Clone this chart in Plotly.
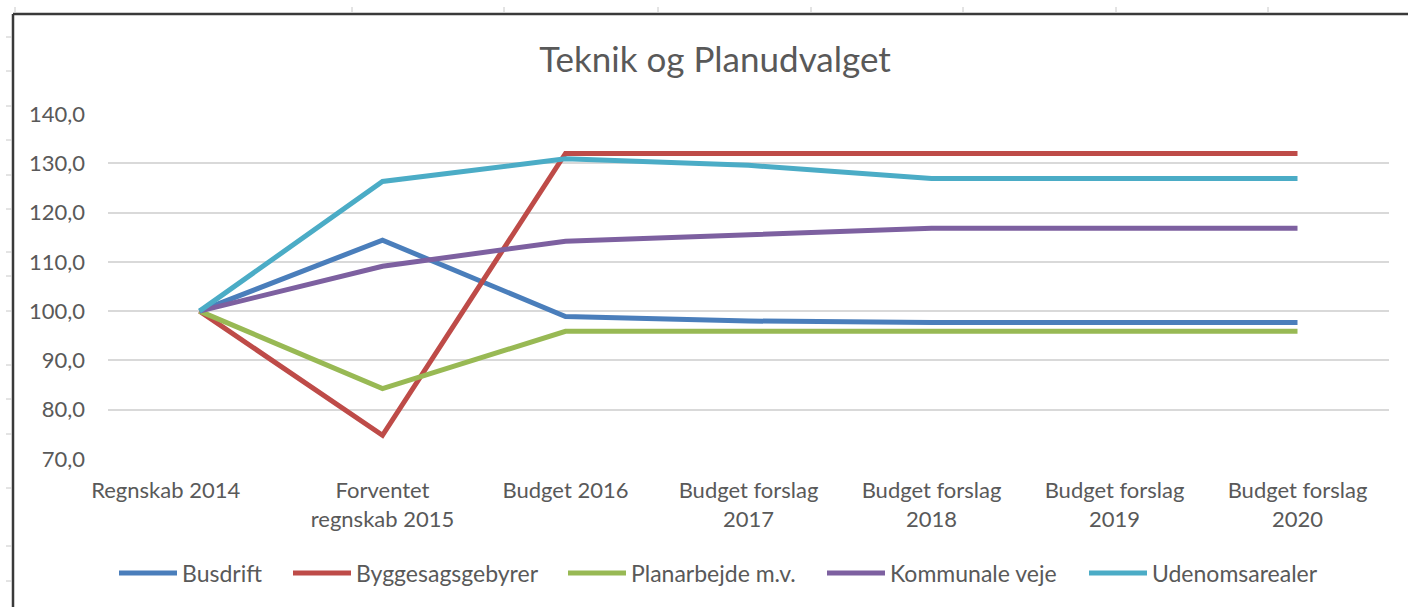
import plotly.graph_objects as go

# categories and series (index, Regnskab 2014 = 100)
categories = [
    "Regnskab 2014",
    "Forventet regnskab 2015",
    "Budget 2016",
    "Budget forslag 2017",
    "Budget forslag 2018",
    "Budget forslag 2019",
    "Budget forslag 2020",
]
# tick labels as Excel wrapped them (first one sits left of its point)
tick_labels = [
    "Regnskab 2014" + "\u00a0" * 12,
    "Forventet<br>regnskab 2015",
    "Budget 2016",
    "Budget forslag<br>2017",
    "Budget forslag<br>2018",
    "Budget forslag<br>2019",
    "Budget forslag<br>2020",
]
busdrift = [100.0, 114.4, 98.9, 98.0, 97.7, 97.7, 97.7]
byggesagsgebyrer = [100.0, 74.8, 132.0, 132.0, 132.0, 132.0, 132.0]
planarbejde = [100.0, 84.3, 95.9, 95.9, 95.9, 95.9, 95.9]
kommunale_veje = [100.0, 109.1, 114.2, 115.6, 116.8, 116.8, 116.8]
udenomsarealer = [100.0, 126.3, 130.9, 129.6, 126.9, 126.9, 126.9]

series_names = ["Busdrift", "Byggesagsgebyrer", "Planarbejde m.v.", "Kommunale veje", "Udenomsarealer"]
series_values = [busdrift, byggesagsgebyrer, planarbejde, kommunale_veje, udenomsarealer]
colors = ["#4a7ebb", "#be4b48", "#98b954", "#7d60a0", "#4bacc6"]

y_ticks = [70, 80, 90, 100, 110, 120, 130, 140]

W, H = 1408, 607
L, R, T, B = 108, 19, 114, 148
FONT = "Lato"
GREY = "#595959"


def px(x):
    return (x - L) / (W - L - R)


def py(y):
    return (H - B - y) / (H - T - B)


# left edge of each legend entry (pixels), one legend per series
legend_left = [114, 288, 563, 822, 1084]

fig = go.Figure()
legends = {}
for i, (name, vals, col) in enumerate(zip(series_names, series_values, colors)):
    key = "legend" if i == 0 else "legend%d" % (i + 1)
    fig.add_trace(go.Scatter(
        x=categories, y=vals, name=name, mode="lines",
        line=dict(color=col, width=5), legend=key,
    ))
    legends[key] = dict(orientation="h", x=px(legend_left[i]), xanchor="left",
                        y=py(573), yanchor="middle", bgcolor="rgba(0,0,0,0)",
                        font=dict(family=FONT, size=23, color=GREY),
                        itemwidth=58)

shapes = []
# worksheet frame behind the chart
shapes.append(dict(type="line", xref="paper", yref="paper",
                   x0=px(13), x1=px(W + 5), y0=py(14), y1=py(14),
                   line=dict(color="#3a3a3a", width=2.5)))
shapes.append(dict(type="line", xref="paper", yref="paper",
                   x0=px(13), x1=px(13), y0=py(14), y1=py(H + 5),
                   line=dict(color="#3a3a3a", width=2.5)))
for ry in [37, 71, 106, 140, 175, 209, 252, 276, 311, 365, 399, 434, 488, 546, 581]:
    shapes.append(dict(type="line", xref="paper", yref="paper",
                       x0=px(6), x1=px(12), y0=py(ry), y1=py(ry),
                       line=dict(color="#c8c8c8", width=1)))
for cx in [15, 352, 504, 658, 811, 963, 1116, 1268]:
    shapes.append(dict(type="line", xref="paper", yref="paper",
                       x0=px(cx), x1=px(cx), y0=py(7), y1=py(12),
                       line=dict(color="#c8c8c8", width=1)))

fig.update_layout(
    width=W, height=H,
    margin=dict(l=L, r=R, t=T, b=B, autoexpand=False),
    paper_bgcolor="white", plot_bgcolor="white",
    separators=",.",
    font=dict(family=FONT, color=GREY, size=22),
    title=dict(text="Teknik og Planudvalget", x=715 / W, y=1 - 60 / H,
               xref="container", yref="container",
               xanchor="center", yanchor="middle",
               font=dict(family=FONT, size=35, color=GREY)),
    xaxis=dict(range=[-0.5, 6.5], showgrid=False, showline=False,
               zeroline=False, ticks="", ticklabelstandoff=16,
               tickvals=categories, ticktext=tick_labels, tickangle=0,
               automargin=False,
               tickfont=dict(size=22, color=GREY)),
    yaxis=dict(range=[70, 140], tickvals=y_ticks, tickformat=".1f",
               showgrid=True, gridcolor="#d9d9d9", gridwidth=1.5,
               zeroline=False, showline=False, ticks="",
               ticklabelstandoff=22, automargin=False,
               tickfont=dict(size=22, color=GREY)),
    shapes=shapes,
    showlegend=True,
    **legends,
)

fig.write_html("out.html", config={"displayModeBar": False},
               post_script="document.body.style.margin='0';")
